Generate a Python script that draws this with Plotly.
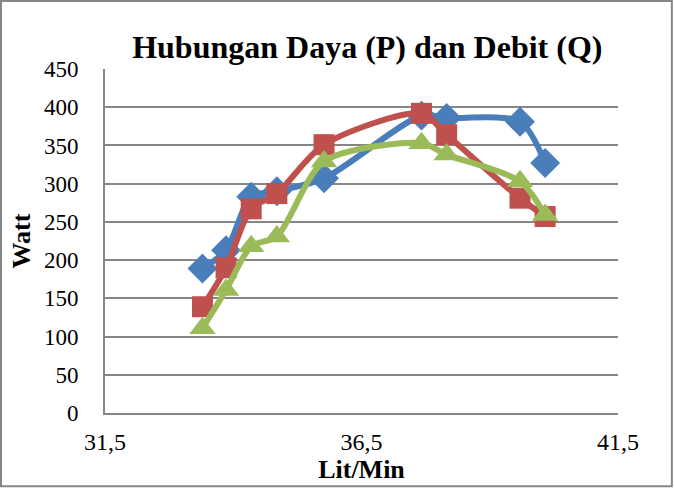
import plotly.graph_objects as go

debit = [33.4, 33.86, 34.35, 34.85, 35.77, 37.67, 38.16, 39.59, 40.08]
daya_biru = [189, 213, 283, 290, 307, 389, 386, 381, 327]
daya_merah = [139, 190, 267, 287, 351, 392, 364, 281, 257]
daya_hijau = [111, 161, 218, 231, 329, 353, 338, 303, 259]

x_ticks = [31.5, 36.5, 41.5]
x_ticktext = ["31,5", "36,5", "41,5"]
y_ticks = [0, 50, 100, 150, 200, 250, 300, 350, 400, 450]

font_family = "Liberation Serif"

fig = go.Figure()
series = [
    (daya_biru, "#4A7EBB", "diamond", 23),
    (daya_merah, "#C0504D", "square", 21),
    (daya_hijau, "#9BBB59", "triangle-up", 23),
]
for ys, col, sym, sz in series:
    fig.add_trace(go.Scatter(
        x=debit, y=ys, mode="lines+markers",
        line=dict(color=col, width=6, shape="spline", smoothing=0.8),
        marker=dict(color=col, symbol=sym, size=sz, line=dict(width=0)),
        showlegend=False,
    ))

fig.update_layout(
    width=674, height=488,
    margin=dict(l=105, r=56, t=69, b=75),
    paper_bgcolor="white", plot_bgcolor="white",
    font=dict(family=font_family, size=23, color="black"),
    title=dict(text="<b>Hubungan Daya (P) dan Debit (Q)</b>",
               x=0.545, xanchor="center", y=0.905, yanchor="middle",
               xref="container", yref="container", automargin=False,
               font=dict(family=font_family, size=32, color="black")),
    xaxis=dict(range=[31.5, 41.5], tickvals=x_ticks, ticktext=x_ticktext,
               showgrid=False, zeroline=False, showline=True,
               linecolor="#868686", linewidth=2, ticks="",
               ticklabelstandoff=6, automargin=False,
               tickfont=dict(size=24),
               title=dict(text="<b>Lit/Min</b>", standoff=4,
                          font=dict(family=font_family, size=26))),
    yaxis=dict(range=[0, 450], tickvals=y_ticks,
               showgrid=True, gridcolor="#868686", gridwidth=2,
               zeroline=False, showline=True,
               linecolor="#868686", linewidth=2, ticks="",
               ticklabelstandoff=20, automargin=False,
               title=dict(text="<b>Watt</b>", standoff=6,
                          font=dict(family=font_family, size=26))),
    shapes=[dict(type="rect", xref="paper", yref="paper",
                 x0=-0.2027, x1=1.105, y0=-0.213, y1=1.198,
                 line=dict(color="#868686", width=2), fillcolor="rgba(0,0,0,0)",
                 layer="below")],
)

fig.write_html("out.html")
